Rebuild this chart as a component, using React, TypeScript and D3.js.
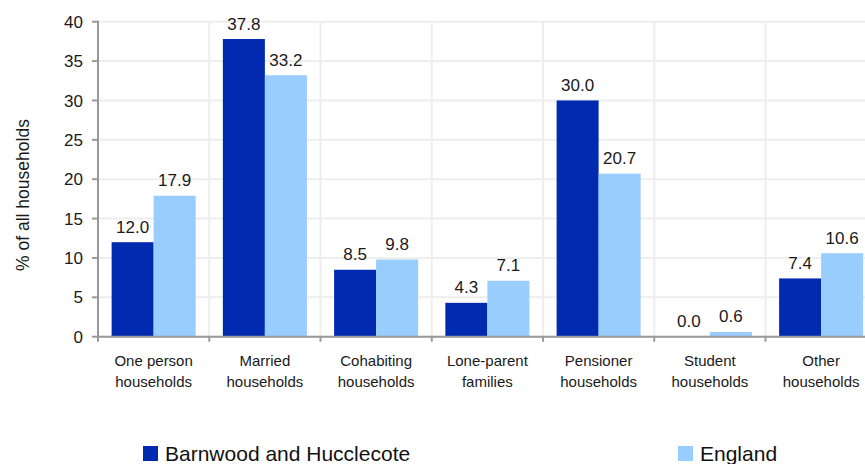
import React from 'react';
import * as d3 from 'd3';

const categories = [
  ['One person', 'households'],
  ['Married', 'households'],
  ['Cohabiting', 'households'],
  ['Lone-parent', 'families'],
  ['Pensioner', 'households'],
  ['Student', 'households'],
  ['Other', 'households'],
];
const seriesNames = ['Barnwood and Hucclecote', 'England'];
const barnwood = [12.0, 37.8, 8.5, 4.3, 30.0, 0.0, 7.4];
const england = [17.9, 33.2, 9.8, 7.1, 20.7, 0.6, 10.6];
const yTicks = [0, 5, 10, 15, 20, 25, 30, 35, 40];
const colors = ['#002AB0', '#99CCFF'];

const W = 865;
const H = 464;
const left = 98;
const top = 21.7;
const bottom = 336.7;
const catStep = 111.25;
const font = '"Liberation Sans", Arial, sans-serif';

const App: React.FC = () => {
  const keys = categories.map((c) => c.join(' '));
  const x0 = d3.scaleBand<string>()
    .domain(keys)
    .range([left, left + catStep * keys.length])
    .padding(0);
  const x1 = d3.scaleBand<string>()
    .domain(seriesNames)
    .range([0, x0.bandwidth()])
    .paddingInner(0)
    .paddingOuter(0.324);
  const y = d3.scaleLinear().domain([0, 40]).range([bottom, top]);
  const data = [barnwood, england];
  const plotRight = left + catStep * keys.length;

  return (
    <div style={{ position: 'absolute', left: 0, top: 0 }}>
      <svg width={W} height={H} style={{ display: 'block', background: '#fff' }} fontFamily={font}>
        {/* horizontal grid */}
        {yTicks.map((t) => (
          <line key={'h' + t} x1={left} x2={plotRight} y1={y(t)} y2={y(t)} stroke="#eeeeee" strokeWidth={2} />
        ))}
        {/* vertical grid */}
        {keys.map((k, i) => i > 0 && (
          <line key={'v' + k} x1={x0(k)} x2={x0(k)} y1={top} y2={bottom} stroke="#eeeeee" strokeWidth={2} />
        ))}
        {/* bars */}
        {data.map((vals, si) =>
          vals.map((v, i) => {
            const bx = (x0(keys[i]) as number) + (x1(seriesNames[si]) as number);
            return (
              <g key={si + '-' + i}>
                <rect x={bx} y={y(v)} width={x1.bandwidth()} height={bottom - y(v)} fill={colors[si]} />
                <text x={bx + x1.bandwidth() / 2} y={y(v) - 9.5} textAnchor="middle" fontSize={17} fill="#1a1a1a">
                  {v.toFixed(1)}
                </text>
              </g>
            );
          })
        )}
        {/* y axis */}
        <line x1={left} x2={left} y1={top - 1} y2={bottom + 1} stroke="#999" strokeWidth={2} />
        {yTicks.map((t) => (
          <g key={'yt' + t}>
            <line x1={left - 6} x2={left} y1={y(t)} y2={y(t)} stroke="#999" strokeWidth={2} />
            <text x={83} y={y(t)} dy="0.36em" textAnchor="end" fontSize={17} fill="#1a1a1a">{t}</text>
          </g>
        ))}
        {/* x axis */}
        <line x1={left} x2={plotRight} y1={bottom} y2={bottom} stroke="#999" strokeWidth={2} />
        {keys.map((k) => (
          <line key={'xt' + k} x1={x0(k)} x2={x0(k)} y1={bottom} y2={bottom + 5} stroke="#999" strokeWidth={2} />
        ))}
        {categories.map((c, i) => (
          <text key={'xl' + i} x={(x0(keys[i]) as number) + x0.bandwidth() / 2} textAnchor="middle" fontSize={15} fill="#1a1a1a">
            <tspan x={(x0(keys[i]) as number) + x0.bandwidth() / 2} y={366}>{c[0]}</tspan>
            <tspan x={(x0(keys[i]) as number) + x0.bandwidth() / 2} y={387}>{c[1]}</tspan>
          </text>
        ))}
        {/* y title */}
        <text transform="translate(29,195) rotate(-90)" textAnchor="middle" fontSize={17.5} fill="#1a1a1a">
          % of all households
        </text>
        {/* legend */}
        <rect x={143} y={446} width={15} height={15} fill={colors[0]} />
        <text x={165} y={461} fontSize={21} fill="#111">{seriesNames[0]}</text>
        <rect x={678} y={446} width={15} height={15} fill={colors[1]} />
        <text x={700} y={461} fontSize={21} fill="#111">{seriesNames[1]}</text>
      </svg>
    </div>
  );
};

export default App;
